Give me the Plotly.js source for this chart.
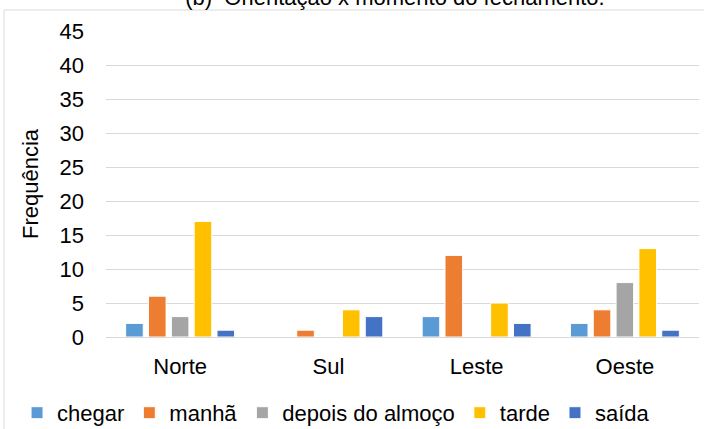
<!DOCTYPE html>
<html>
<head>
<meta charset="utf-8">
<script src="https://cdn.plot.ly/plotly-3.0.1.min.js"></script>
<style>html,body{margin:0;padding:0;background:#fff;}#chart{width:704px;height:429px;}</style>
</head>
<body>
<div id="chart"></div>
<script>
const categories = ["Norte", "Sul", "Leste", "Oeste"];
const seriesNames = ["chegar", "manhã", "depois do almoço", "tarde", "saída"];
const chegar = [2, 0, 3, 2];
const manha = [6, 1, 12, 4];
const depoisDoAlmoco = [3, 0, 0, 8];
const tarde = [17, 4, 5, 13];
const saida = [1, 3, 2, 1];
const yTicks = [0, 5, 10, 15, 20, 25, 30, 35, 40, 45];
const colors = ["#5B9BD5", "#ED7D31", "#A5A5A5", "#FFC000", "#4472C4"];

const seriesValues = [chegar, manha, depoisDoAlmoco, tarde, saida];
const FONT = "Liberation Sans, Arial, sans-serif";

const traces = seriesValues.map((vals, i) => ({
  type: "bar",
  name: seriesNames[i],
  x: categories,
  y: vals,
  marker: {color: colors[i], line: {color: "#ffffff", width: 1}},
  hoverinfo: "x+y+name"
}));

const layout = {
  width: 704,
  height: 429,
  margin: {l: 106, r: 5, t: 31, b: 92, autoexpand: false},
  paper_bgcolor: "#ffffff",
  plot_bgcolor: "#ffffff",
  font: {family: FONT, size: 22, color: "#000000"},
  title: {
    text: "(b)  Orientação x momento do fechamento.",
    font: {family: FONT, size: 22, color: "#000000"},
    x: 0.561, xref: "container", xanchor: "center",
    y: 0.988, yref: "container", yanchor: "bottom"
  },
  barmode: "group",
  bargap: 0.23,
  bargroupgap: 0.23,
  xaxis: {
    type: "category",
    showgrid: false,
    showline: true,
    linecolor: "#d9d9d9",
    linewidth: 1,
    ticks: "",
    tickangle: 0,
    automargin: false,
    ticklabelstandoff: 10,
    tickfont: {family: FONT, size: 22, color: "#000000"}
  },
  yaxis: {
    range: [0, 45],
    tickvals: yTicks,
    ticktext: yTicks.map(String),
    showgrid: true,
    gridcolor: "#d9d9d9",
    gridwidth: 1,
    zeroline: false,
    showline: false,
    ticks: "",
    automargin: false,
    ticklabelstandoff: 21,
    tickfont: {family: FONT, size: 22, color: "#000000"},
    title: {text: "Frequência", standoff: 14, font: {family: FONT, size: 22, color: "#000000"}}
  },
  showlegend: true,
  legend: {
    orientation: "h",
    xref: "paper",
    x: -0.15,
    xanchor: "left",
    y: -0.248,
    yanchor: "middle",
    font: {family: FONT, size: 22, color: "#000000"},
    bgcolor: "rgba(0,0,0,0)",
    traceorder: "normal"
  },
  shapes: [{
    type: "rect",
    xref: "paper", yref: "paper",
    x0: -0.172, x1: 1.2, y0: -0.5, y1: 1.0686,
    line: {color: "#d9d9d9", width: 1},
    fillcolor: "rgba(0,0,0,0)",
    layer: "below"
  }]
};

Plotly.newPlot("chart", traces, layout, {displayModeBar: false, staticPlot: true});
</script>
</body>
</html>
